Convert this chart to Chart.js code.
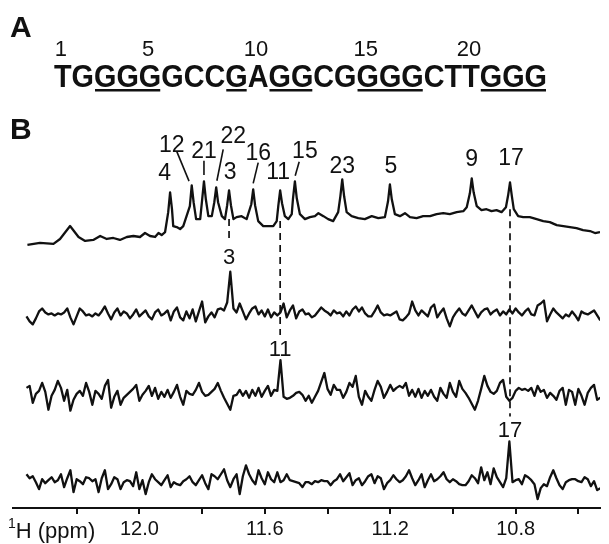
<!DOCTYPE html>
<html lang="en">
<head>
<meta charset="UTF-8">
<title>Imino proton spectra</title>
<script src="https://cdn.jsdelivr.net/npm/chart.js@4"></script>
<style>
    html, body { margin: 0; padding: 0; background: #fff; }
    #chart { display: block; }
</style>
</head>
<body>
<canvas id="chart" width="609" height="544"></canvas>
<script>
// panel A: the sequence
const sequence = 'TGGGGGCCGAGGCGGGGCTTGGG';
const seqNumbers = [1, 5, 10, 15, 20];
const underlined = [[3, 5], [9, 9], [11, 12], [15, 17], [21, 23]];

// x axis (ppm, reversed)
const tickValues = [12.2, 12.0, 11.8, 11.6, 11.4, 11.2, 11.0, 10.8, 10.6];
const tickLabels = ['', '12.0', '', '11.6', '', '11.2', '', '10.8', ''];

// top trace: reference spectrum
const topPpm = [
    12.357, 12.317, 12.274, 12.253, 12.221, 12.194, 12.173, 12.147, 12.125, 12.104,
    12.083, 12.062, 12.040, 12.019, 11.998, 11.982, 11.966, 11.950, 11.939, 11.929,
    11.918, 11.908, 11.902, 11.896, 11.892, 11.881, 11.870, 11.860, 11.839, 11.833,
    11.827, 11.819, 11.806, 11.800, 11.794, 11.788, 11.780, 11.769, 11.761, 11.755,
    11.749, 11.737, 11.727, 11.720, 11.714, 11.708, 11.700, 11.690, 11.674, 11.658,
    11.643, 11.637, 11.631, 11.621, 11.605, 11.589, 11.573, 11.562, 11.557, 11.551,
    11.545, 11.536, 11.525, 11.514, 11.510, 11.504, 11.498, 11.488, 11.472, 11.456,
    11.440, 11.429, 11.413, 11.398, 11.382, 11.366, 11.359, 11.353, 11.347, 11.339,
    11.323, 11.302, 11.281, 11.259, 11.238, 11.217, 11.207, 11.201, 11.195, 11.185,
    11.169, 11.153, 11.137, 11.116, 11.095, 11.073, 11.052, 11.031, 11.010, 10.988,
    10.967, 10.956, 10.946, 10.940, 10.934, 10.924, 10.909, 10.893, 10.877, 10.861,
    10.845, 10.831, 10.824, 10.818, 10.812, 10.806, 10.792, 10.776, 10.755, 10.733,
    10.712, 10.691, 10.669, 10.648, 10.627, 10.606, 10.585, 10.563, 10.547, 10.531
];
const topInt = [
    -1, 1, 0, 5, 18, 7, 3, 4, 8, 5,
    6, 4, 7, 8, 7, 11, 8, 7, 11, 9,
    12, 32, 52, 35, 18, 17, 15, 18, 38, 59,
    42, 25, 25, 44, 63, 45, 28, 28, 42, 57,
    42, 28, 25, 39, 54, 39, 25, 27, 28, 25,
    40, 55, 39, 23, 18, 18, 18, 23, 38, 54,
    41, 28, 25, 30, 46, 63, 46, 30, 25, 27,
    28, 31, 28, 25, 23, 32, 48, 65, 48, 32,
    28, 26, 25, 28, 26, 27, 43, 60, 45, 30,
    28, 31, 27, 26, 28, 28, 30, 31, 30, 32,
    33, 37, 51, 66, 52, 38, 34, 35, 33, 34,
    32, 37, 49, 62, 48, 35, 28, 27, 27, 25,
    23, 22, 19, 18, 17, 16, 14, 13, 11, 12
];
const peakPpm = [11.902, 11.833, 11.794, 11.755, 11.714, 11.637, 11.551, 11.504, 11.353, 11.201, 10.940, 10.818];
const peakLabels = ['4', '12', '21', '22', '3', '16', '11', '15', '23', '5', '9', '17'];

// lower traces, sampled from 12.36 ppm every 0.01 ppm
const gridStart = 12.36;
const gridStep = 0.01;
const trace3 = [
    -2, -7, -10, -4, 3, 6, 2, 0, 1, -1,
    1, 0, 2, 6, -3, -10, -2, 6, 3, -1,
    0, -2, 1, -1, 3, 8, 1, -5, 2, 6,
    -1, 3, 1, -4, 0, 5, -2, 1, 4, -2,
    -5, 2, 5, -1, 1, 4, -6, 3, 7, -3,
    -6, 3, -4, 5, -7, 3, 13, -8, -2, 2,
    -3, 5, 6, 4, 12, 43, 6, 2, 11, 3,
    -5, 1, 6, 8, 0, 4, -2, 5, -3, 2,
    -1, 2, 11, -3, 4, 9, -4, 3, 5, 0,
    1, -3, -1, 3, 7, 4, 2, -1, 4, 1,
    2, -2, 3, -1, 5, 8, 3, 7, 1, -2,
    -2, 3, 9, 2, -1, 0, -1, 1, 3, -5,
    -6, -3, 1, 13, 4, -1, 4, 1, -2, 7,
    10, -3, 2, 6, -4, -12, -3, 2, 6, 1,
    -1, 4, 9, 3, -3, 2, 5, 6, 0, 3,
    5, -1, 3, 0, 5, 1, 6, 2, -1, 3,
    6, 0, -1, 9, 11, 14, -7, 0, 6, 2,
    -1, -4, 0, -2, 3, -1, -6, 3, 1, 0,
    2, 4, -1, -6
];
const trace11 = [
    6, 8, -9, 0, 3, 11, 2, -16, -2, 4,
    13, 6, -7, 4, -17, -6, 0, 3, -2, 11,
    2, -11, 3, 0, -5, 8, 14, -14, -3, 3,
    -11, -4, -1, 2, 5, 9, -7, -1, 3, 8,
    -2, 6, -5, 2, -3, 4, -4, 2, 9, -3,
    -11, 3, 0, -1, 4, 11, 2, -2, -1, 2,
    5, 11, 3, -4, -10, -16, -2, -1, 4, -2,
    3, -4, 4, -2, 6, -3, 3, 8, -2, 4,
    3, 34, -3, -5, -4, -2, 1, 2, -1, -7,
    -2, -9, -3, 3, 12, 21, 5, -1, 9, 4,
    4, -4, 2, 11, 7, 18, -3, -11, 3, -3,
    -7, 4, 13, 7, -4, 2, 9, 3, 6, 8,
    6, 11, -2, 4, -3, 5, -4, 3, -2, 4,
    -3, -7, 6, 0, -4, 11, 2, -3, 13, 5,
    1, -4, -10, -16, -7, 5, 18, 8, 2, 0,
    3, 11, 14, -3, -7, -4, 3, 6, 4, 5,
    3, 6, -2, 8, 2, 4, -4, 1, -2, -6,
    3, 6, -11, 4, 2, -11, 5, -2, -11, 1,
    6, 9, -6, -4
];
const trace17 = [
    8, 4, 6, 0, -7, 3, -1, 2, 5, 0,
    2, 8, -5, 4, 12, -10, 3, 1, -2, 5,
    4, 1, 3, -10, 4, 12, -7, -2, 5, 3,
    -7, 0, 2, 1, -4, 10, -7, 2, -12, 0,
    8, 3, 0, -3, 2, 7, -5, 0, -2, -3,
    1, 3, 6, 0, -3, 2, 7, -1, -7, 8,
    6, 3, 8, 13, 2, -5, 3, 8, -12, 6,
    17, 8, 2, -2, 12, 4, -2, 10, 3, 0,
    10, 0, 2, 8, 2, 1, 0, -1, -5, 0,
    0, -2, 1, 0, 2, 1, 1, -3, 1, 3,
    8, 1, 5, 9, -3, 2, 4, -3, 1, 6,
    8, -1, 6, 4, -7, -1, 2, 7, 3, 0,
    2, 6, 12, 4, -3, 2, 8, -5, 2, 8,
    1, 3, 6, 10, 3, 0, 3, 1, -2, -3,
    -3, 1, 7, 4, -1, 15, 2, 10, -2, 14,
    5, 0, -5, 4, 41, 0, 2, 3, -2, 7,
    5, 2, -2, -17, -6, -2, -4, 5, 12, 4,
    -3, -7, 0, 2, 3, 3, 1, 0, 5, 3,
    -4, 1, -8, -6
];
const lowerTraces = [trace3, trace11, trace17];
const lowerLabels = ['3', '11', '17'];

// ---- layout / style ----
const ink = '#111';
const family = '"Liberation Sans", Arial, Helvetica, sans-serif';
const traceOffset = [266, 195, 115, 26];   // vertical shift of each trace (y units = px)
// label centre relative to peak top: [dx, dy, leader x1, y1, x2, y2]
const topLabelPos = [
    [-5.5, -21],
    [-20, -41.5, -15, -34, -2.7, -4.3],
    [0, -32, 0, -20.6, 0, -6.3],
    [17, -53, 7, -38, 0.7, -6.6],
    [1, -20],
    [5, -38, 5, -26.7, 0, -6],
    [-2, -20],
    [10, -32, 4.3, -19.6, 0.3, -5.6],
    [0, -15],
    [1, -19.5],
    [0, -21],
    [1, -26]
];
const lowerLabelDy = [-16, -12, -12];

function gridPpm(i) {
    return gridStart - gridStep * i;
}

// draw digits so that their visual centre sits on (x, y)
function centredText(ctx, txt, x, y, size) {
    ctx.fillText(txt, x, y + size * 0.358);
}

const annotate = {
    id: 'annotate',
    afterDatasetsDraw(chart) {
        const ctx = chart.ctx;
        const xs = chart.scales.x, ys = chart.scales.y;
        ctx.save();
        ctx.fillStyle = ink;
        ctx.strokeStyle = ink;

        // panel letters
        ctx.font = 'bold 30px ' + family;
        ctx.textAlign = 'left';
        ctx.textBaseline = 'alphabetic';
        ctx.fillText('A', 10, 37);
        ctx.fillText('B', 10, 139);

        // sequence, squeezed to the width in the figure
        ctx.font = 'bold 32px ' + family;
        const seqLeft = 54, seqWidth = 493;
        const natural = ctx.measureText(sequence).width;
        const sx = seqWidth / natural;
        const edges = [];
        for (let i = 0; i <= sequence.length; i++) {
            edges.push(seqLeft + ctx.measureText(sequence.slice(0, i)).width * sx);
        }
        ctx.save();
        ctx.translate(seqLeft, 87);
        ctx.scale(sx, 1);
        ctx.fillText(sequence, 0, 0);
        ctx.restore();
        underlined.forEach(function (u) {
            ctx.fillRect(edges[u[0] - 1] + 1, 89, edges[u[1]] - edges[u[0] - 1] - 2, 2.5);
        });
        ctx.font = '22px ' + family;
        ctx.textAlign = 'center';
        seqNumbers.forEach(function (n) {
            ctx.fillText(String(n), (edges[n - 1] + edges[n]) / 2 - 2, 56);
        });

        // peak labels on the top trace
        ctx.font = '23px ' + family;
        ctx.lineWidth = 1.6;
        peakPpm.forEach(function (p, k) {
            const i = topPpm.indexOf(p);
            const px = xs.getPixelForValue(p);
            const py = ys.getPixelForValue(topInt[i] + traceOffset[0]);
            const L = topLabelPos[k];
            centredText(ctx, peakLabels[k], px + L[0], py + L[1], 23);
            if (L.length > 2) {
                ctx.beginPath();
                ctx.moveTo(px + L[2], py + L[3]);
                ctx.lineTo(px + L[4], py + L[5]);
                ctx.stroke();
            }
        });

        // labels on lower traces and dashed links to the top trace
        ctx.font = '22px ' + family;
        ctx.setLineDash([7, 5]);
        ctx.lineWidth = 1.7;
        lowerLabels.forEach(function (lab, k) {
            const p = peakPpm[peakLabels.indexOf(lab)];
            const px = xs.getPixelForValue(p);
            const vals = lowerTraces[k];
            const gi = Math.round((gridStart - p) / gridStep);
            const ly = ys.getPixelForValue(vals[gi] + traceOffset[k + 1]) + lowerLabelDy[k];
            centredText(ctx, lab, px, ly, 22);
            const ti = topPpm.indexOf(p);
            const base = Math.min(topInt[ti - 2], topInt[ti + 2]);
            const y0 = ys.getPixelForValue(base + traceOffset[0]);
            ctx.beginPath();
            ctx.moveTo(px, y0);
            ctx.lineTo(px, ly - 13);
            ctx.stroke();
        });
        ctx.setLineDash([]);

        // axis title
        ctx.textAlign = 'left';
        ctx.textBaseline = 'alphabetic';
        ctx.font = '14px ' + family;
        ctx.fillText('1', 8, 528);
        const supW = ctx.measureText('1').width;
        ctx.font = '22px ' + family;
        ctx.fillText('H (ppm)', 8 + supW, 538);
        ctx.restore();
    }
};

const datasets = [{
    data: topPpm.map(function (p, i) { return { x: p, y: topInt[i] + traceOffset[0] }; })
}];
lowerTraces.forEach(function (vals, k) {
    datasets.push({
        data: vals.map(function (v, i) { return { x: gridPpm(i), y: v + traceOffset[k + 1] }; })
    });
});
datasets.forEach(function (d) {
    d.borderColor = ink;
    d.borderWidth = 2.3;
    d.pointRadius = 0;
    d.tension = 0;
    d.borderJoinStyle = 'round';
});

new Chart(document.getElementById('chart'), {
    type: 'line',
    data: { datasets: datasets },
    options: {
        responsive: false,
        animation: false,
        events: [],
        layout: { padding: { top: 100, left: 13, right: 9, bottom: 0 } },
        plugins: { legend: { display: false }, tooltip: { enabled: false } },
        scales: {
            x: {
                type: 'linear',
                reverse: true,
                min: 10.531,
                max: 12.403,
                afterBuildTicks: function (scale) {
                    scale.ticks = tickValues.map(function (v) { return { value: v }; });
                },
                ticks: {
                    autoSkip: false,
                    maxRotation: 0,
                    padding: 3,
                    color: ink,
                    font: { family: family, size: 20 },
                    callback: function (v, i) { return tickLabels[i]; }
                },
                grid: { drawOnChartArea: false, drawTicks: true, tickLength: 6, color: ink, lineWidth: 2 },
                border: { display: true, color: ink, width: 2 }
            },
            y: { display: false, min: 0, max: 411 }
        }
    },
    plugins: [annotate]
});
</script>
</body>
</html>
